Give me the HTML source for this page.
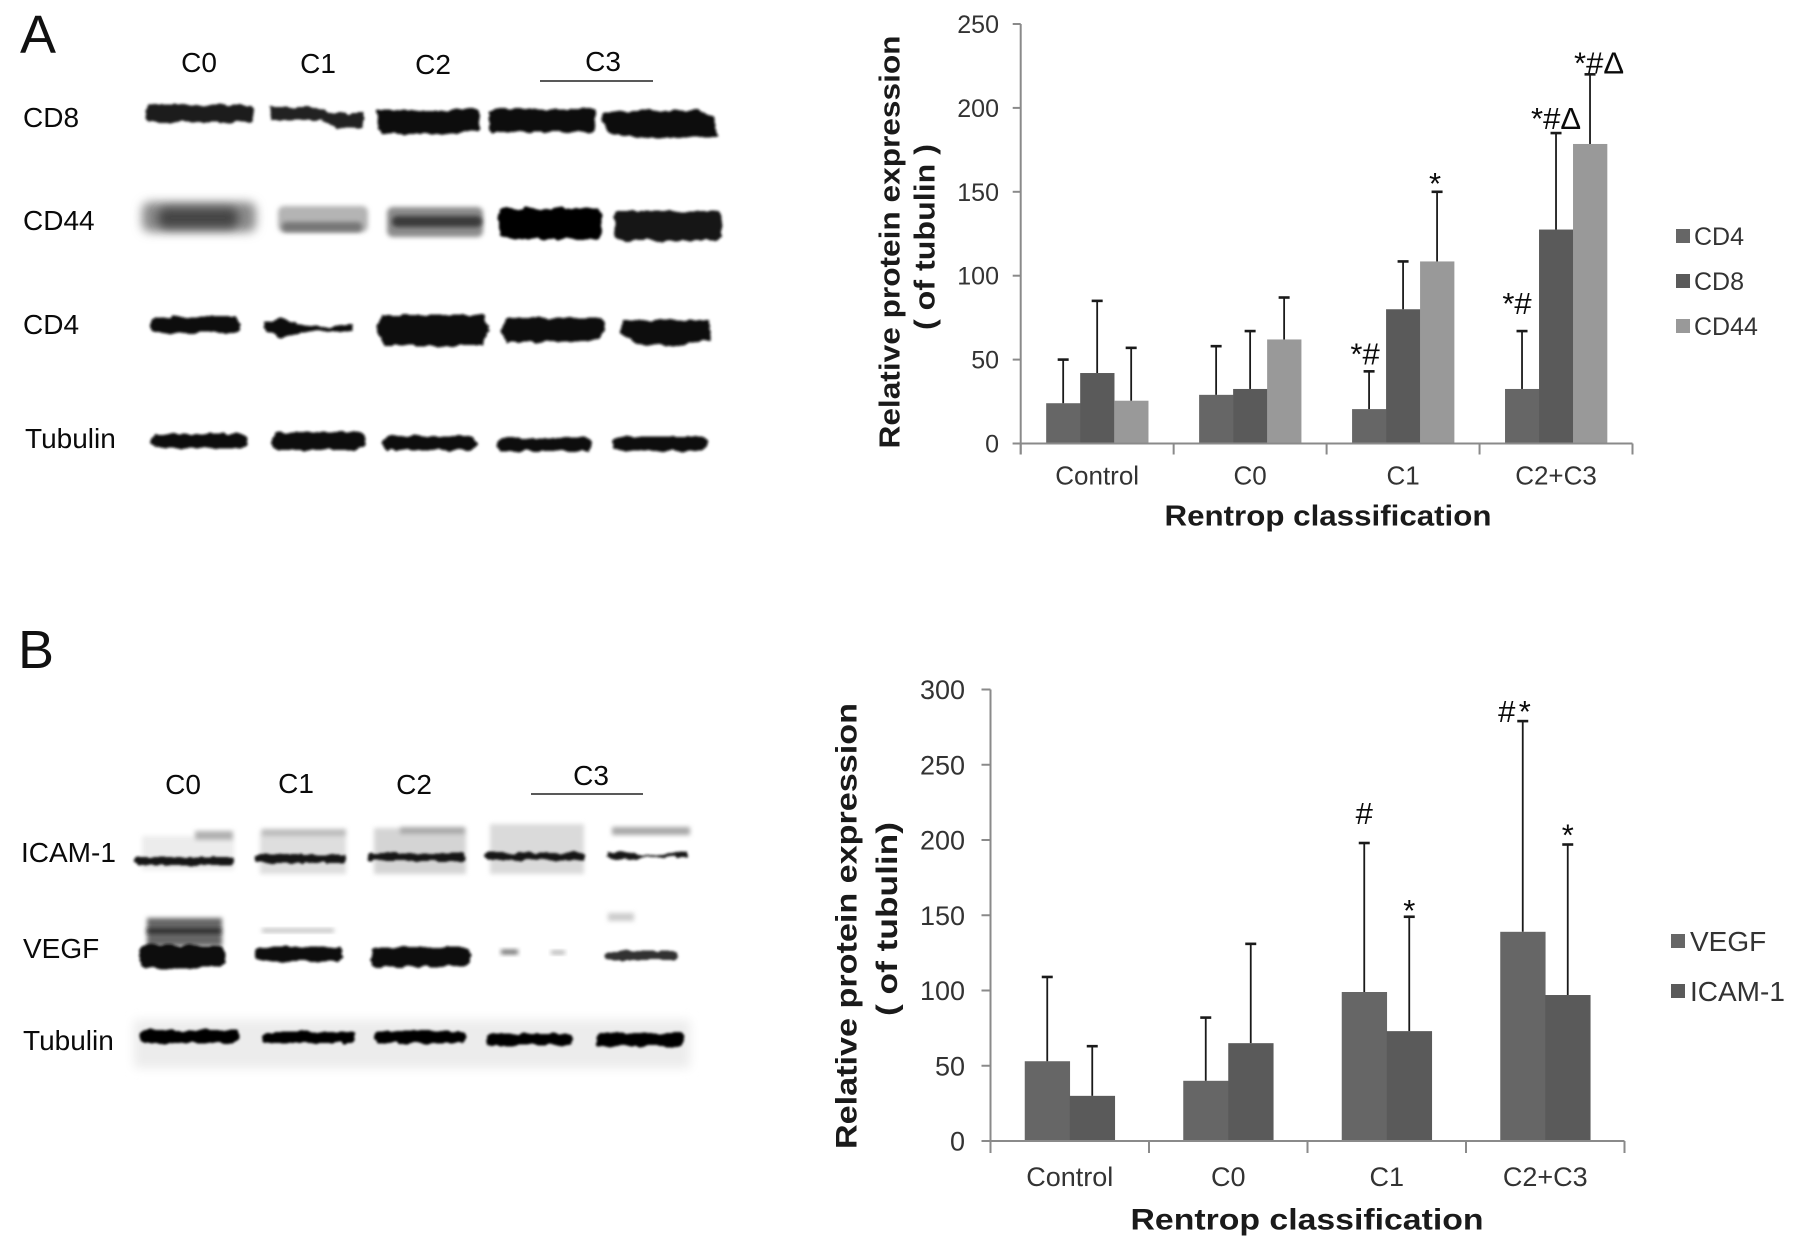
<!DOCTYPE html>
<html lang="en">
<head>
<meta charset="utf-8">
<title>Protein expression by Rentrop classification</title>
<style>
html,body{margin:0;padding:0;background:#fff;width:1795px;height:1252px;overflow:hidden}
svg{display:block;position:absolute;left:0;top:0}
text{font-family:"Liberation Sans",Arial,sans-serif}
.lbl{font-size:28px;fill:#0a0a0a}
.panel{font-size:54px;fill:#111}
</style>
</head>
<body>
<svg id="figure" xmlns="http://www.w3.org/2000/svg" width="1795" height="1252" viewBox="0 0 1795 1252">
<defs>
<filter id="rough" x="-15%" y="-60%" width="130%" height="220%">
<feTurbulence type="fractalNoise" baseFrequency="0.09 0.14" numOctaves="2" seed="4" result="n"/>
<feDisplacementMap in="SourceGraphic" in2="n" scale="6" xChannelSelector="R" yChannelSelector="G"/>
<feGaussianBlur stdDeviation="1.3"/>
</filter>
<filter id="soft" x="-20%" y="-80%" width="140%" height="260%"><feGaussianBlur stdDeviation="5"/></filter>
<filter id="soft2" x="-20%" y="-80%" width="140%" height="260%"><feGaussianBlur stdDeviation="2.5"/></filter>
</defs>

<rect width="1795" height="1252" fill="#fff"/>

<!-- Panel A blot -->
<g>
<text class="panel" x="20" y="53">A</text>
<text class="lbl" x="199" y="72" text-anchor="middle">C0</text>
<text class="lbl" x="318" y="73" text-anchor="middle">C1</text>
<text class="lbl" x="433" y="74" text-anchor="middle">C2</text>
<text class="lbl" x="603" y="71" text-anchor="middle">C3</text>
<line x1="540" y1="81" x2="653" y2="81" stroke="#222" stroke-width="1.5"/>
<text class="lbl" x="23" y="127">CD8</text>
<text class="lbl" x="23" y="230">CD44</text>
<text class="lbl" x="23" y="334">CD4</text>
<text class="lbl" x="25" y="448">Tubulin</text>
<g filter="url(#rough)" fill="#0c0c0c">
<rect x="146" y="105" width="107" height="17" rx="4" fill="#1c1c1c"/>
<path d="M270 107H316L330 113H363V128H338L320 120H270Z" fill="#222"/>
<path d="M377 110H479V130L458 134H383L378 128Z"/>
<rect x="489" y="109" width="107" height="23" rx="4"/>
<path d="M602 111H698L714 116L718 138H648L613 135L601 122Z"/>
</g>
<g>
<rect x="142" y="202" width="114" height="30" rx="8" fill="#8a8a8a" filter="url(#soft)"/>
<rect x="158" y="208" width="80" height="20" rx="8" fill="#444" filter="url(#soft)"/>
<rect x="278" y="206" width="90" height="26" rx="6" fill="#b4b4b4" filter="url(#soft2)"/>
<rect x="282" y="222" width="80" height="10" rx="4" fill="#777" filter="url(#soft2)"/>
<rect x="387" y="207" width="96" height="30" rx="6" fill="#8c8c8c" filter="url(#soft2)"/>
<rect x="392" y="216" width="90" height="11" rx="5" fill="#3a3a3a" filter="url(#soft2)"/>
<rect x="499" y="208" width="103" height="31" rx="7" fill="#060606" filter="url(#rough)"/>
<rect x="614" y="211" width="108" height="30" rx="7" fill="#161616" filter="url(#rough)"/>
</g>
<g filter="url(#rough)" fill="#070707">
<rect x="149" y="317" width="91" height="16" rx="7"/>
<path d="M264 322L282 319L302 325L332 327L352 324V331L332 331L302 332L282 338L265 331Z"/>
<path d="M383 315H483L489 330L483 346H385L376 330Z"/>
<path d="M505 318H602L606 330L599 340L537 342L507 342L501 330Z"/>
<path d="M623 320H709L711 340L667 346L637 344L620 333Z"/>
</g>
<g filter="url(#rough)" fill="#070707">
<rect x="151" y="434" width="96" height="14" rx="7"/>
<rect x="271" y="432" width="94" height="18" rx="8"/>
<rect x="382" y="436" width="95" height="14" rx="7"/>
<rect x="497" y="438" width="95" height="13" rx="6"/>
<rect x="612" y="437" width="95" height="14" rx="7"/>
</g>
</g>

<!-- Panel B blot -->
<g>
<text class="panel" x="18" y="668">B</text>
<text class="lbl" x="183" y="794" text-anchor="middle">C0</text>
<text class="lbl" x="296" y="793" text-anchor="middle">C1</text>
<text class="lbl" x="414" y="794" text-anchor="middle">C2</text>
<text class="lbl" x="591" y="785" text-anchor="middle">C3</text>
<line x1="531" y1="794" x2="643" y2="794" stroke="#222" stroke-width="1.5"/>
<text class="lbl" x="21" y="862">ICAM-1</text>
<text class="lbl" x="23" y="958">VEGF</text>
<text class="lbl" x="23" y="1050">Tubulin</text>
<rect x="134" y="1020" width="556" height="48" fill="#ececec" filter="url(#soft)"/>
<g filter="url(#soft2)">
<rect x="142" y="836" width="92" height="34" fill="#ececec"/>
<rect x="195" y="831" width="38" height="9" fill="#b0b0b0"/>
<rect x="260" y="830" width="86" height="44" fill="#dedede"/>
<rect x="262" y="829" width="84" height="7" fill="#bbb"/>
<rect x="374" y="828" width="92" height="46" fill="#d4d4d4"/>
<rect x="400" y="827" width="65" height="7" fill="#a8a8a8"/>
<rect x="490" y="824" width="94" height="50" fill="#dadada"/>
<rect x="612" y="827" width="78" height="8" fill="#a8a8a8"/>
</g>
<g filter="url(#rough)" fill="#141414">
<rect x="135" y="857" width="99" height="8" rx="4"/>
<rect x="254" y="855" width="93" height="8" rx="4"/>
<rect x="368" y="853" width="97" height="8" rx="4"/>
<rect x="485" y="853" width="100" height="7" rx="3"/>
<path d="M606 853L623 852L648 855L688 852V857L648 857L623 859L606 858Z"/>
</g>
<g>
<rect x="147" y="918" width="75" height="28" fill="#666" filter="url(#soft2)"/>
<rect x="147" y="929" width="74" height="4" fill="#222" filter="url(#soft2)"/>
<rect x="262" y="929" width="72" height="3" fill="#aaa" filter="url(#soft2)"/>
<rect x="608" y="913" width="26" height="8" fill="#ccc" filter="url(#soft2)"/>
<rect x="501" y="950" width="17" height="4" fill="#555" filter="url(#soft2)"/>
<rect x="551" y="951" width="14" height="3" fill="#999" filter="url(#soft2)"/>
</g>
<g filter="url(#rough)" fill="#080808">
<rect x="139" y="945" width="86" height="23" rx="8"/>
<rect x="255" y="947" width="88" height="14" rx="5"/>
<rect x="371" y="947" width="99" height="20" rx="7"/>
<rect x="606" y="951" width="72" height="9" rx="3" fill="#333"/>
</g>
<g filter="url(#rough)" fill="#060606">
<rect x="140" y="1030" width="99" height="13" rx="6"/>
<rect x="262" y="1032" width="93" height="11" rx="5"/>
<rect x="374" y="1031" width="92" height="12" rx="5"/>
<rect x="486" y="1034" width="87" height="11" rx="5"/>
<rect x="596" y="1033" width="89" height="13" rx="6"/>
</g>
</g>

<g id="chart-a"></g>
<g id="chart-b"></g>
</svg>

<script>
// Chart A data
const categoriesA = ['Control', 'C0', 'C1', 'C2+C3'];
const seriesNamesA = ['CD4', 'CD8', 'CD44'];
const cd4Values = [24, 29, 20.5, 32.5];
const cd8Values = [42, 32.5, 80, 127.5];
const cd44Values = [25.5, 62, 108.5, 178.5];
const cd4ErrorTops = [50, 58, 43, 67];
const cd8ErrorTops = [85, 67, 108.5, 185];
const cd44ErrorTops = [57, 87, 150, 220];
const yTicksA = [0, 50, 100, 150, 200, 250];
const annotationLabelsA = ['*#', '*', '*#', '*#Δ', '*#Δ'];
const annotationGroupsA = [2, 2, 3, 3, 3];
const annotationSeriesA = [0, 2, 0, 1, 2];

// Chart B data
const categoriesB = ['Control', 'C0', 'C1', 'C2+C3'];
const seriesNamesB = ['VEGF', 'ICAM-1'];
const vegfValues = [53, 40, 99, 139];
const icamValues = [30, 65, 73, 97];
const vegfErrorTops = [109, 82, 198, 279];
const icamErrorTops = [63, 131, 149, 197];
const yTicksB = [0, 50, 100, 150, 200, 250, 300];
const annotationLabelsB = ['#', '*', '#', '*', '*'];
const annotationGroupsB = [2, 2, 3, 3, 3];
const annotationSeriesB = [0, 1, 0, 0, 1];

const NS = 'http://www.w3.org/2000/svg';

function addLine(parent, name, x1, y1, x2, y2, color, width) {
  const el = document.createElementNS(NS, 'line');
  
  
  el.setAttribute('x1', x1);
  el.setAttribute('y1', y1);
  el.setAttribute('x2', x2);
  el.setAttribute('y2', y2);
  el.setAttribute('stroke', color);
  el.setAttribute('stroke-width', width);
  parent.appendChild(el);
  return el;
}

function addRect(parent, name, x, y, w, h, color) {
  const el = document.createElementNS(NS, 'rect');
  
  
  el.setAttribute('x', x);
  el.setAttribute('y', y);
  el.setAttribute('width', w);
  el.setAttribute('height', h);
  el.setAttribute('fill', color);
  parent.appendChild(el);
  return el;
}

function addText(parent, name, str, x, yCenter, size, color, anchor, bold, length, rotate) {
  const el = document.createElementNS(NS, 'text');
  
  
  const base = size * 0.358;
  if (rotate) {
    el.setAttribute('transform', 'translate(' + (x + base) + ',' + yCenter + ') rotate(-90)');
    el.setAttribute('x', 0);
    el.setAttribute('y', 0);
  } else {
    el.setAttribute('x', x);
    el.setAttribute('y', yCenter + base);
  }
  el.setAttribute('font-size', size);
  el.setAttribute('fill', color);
  el.setAttribute('text-anchor', anchor);
  if (bold) el.setAttribute('font-weight', 'bold');
  if (length) {
    el.setAttribute('textLength', length);
    el.setAttribute('lengthAdjust', 'spacingAndGlyphs');
  }
  el.textContent = str;
  parent.appendChild(el);
  return el;
}

function drawChart(root, layout, categories, seriesNames, values, errorTops, yTicks, colors, annLabels, annGroups, annSeries, annNudgeX, annNudgeY) {
  const yScale = v => layout.y0 - (v / yTicks[yTicks.length - 1]) * (layout.y0 - layout.yTop);
  const catW = (layout.xEnd - layout.x0) / categories.length;
  const xCat = i => layout.x0 + i * catW;
  const groupW = layout.barW * seriesNames.length;
  const xBar = (i, s) => xCat(i) + (catW - groupW) / 2 + s * layout.barW;

  seriesNames.forEach((sName, s) => {
    values[s].forEach((v, i) => {
      const key = sName.toLowerCase() + '-' + categories[i].toLowerCase().replace('+', '-');
      addRect(root, 'bar-' + key, xBar(i, s), yScale(v), layout.barW + 0.3, layout.y0 - yScale(v), colors[s]);
      const cx = xBar(i, s) + layout.barW / 2;
      addLine(root, 'error-bar-' + key, cx, yScale(v), cx, yScale(errorTops[s][i]), '#1a1a1a', 1.8);
      addLine(root, 'error-cap-' + key, cx - 5.5, yScale(errorTops[s][i]), cx + 5.5, yScale(errorTops[s][i]), '#1a1a1a', 2.6);
    });
  });

  addLine(root, 'y-axis', layout.x0, layout.yTop, layout.x0, layout.y0 + layout.tickDown, '#8a8a8a', 2);
  addLine(root, 'x-axis', layout.x0 - layout.tickLeft, layout.y0, layout.xEnd, layout.y0, '#8a8a8a', 2);
  yTicks.forEach(t => {
    addLine(root, 'y-tick-' + t, layout.x0 - layout.tickLeft, yScale(t), layout.x0, yScale(t), '#8a8a8a', 2);
    addText(root, 'y-tick-label-' + t, String(t), layout.labelRight, yScale(t), layout.tickFont, '#333', 'end');
  });
  for (let i = 0; i <= categories.length; i++) {
    addLine(root, 'x-tick-' + i, xCat(i), layout.y0, xCat(i), layout.y0 + layout.tickDown, '#8a8a8a', 2);
  }
  categories.forEach((c, i) => {
    addText(root, 'x-tick-label-' + c.toLowerCase().replace('+', '-'), c, xCat(i) + catW / 2, layout.catY, layout.catFont, '#333', 'middle');
  });

  addText(root, 'x-axis-title', 'Rentrop classification', layout.xTitleX, layout.xTitleY, layout.titleFont, '#1a1a1a', 'middle', true, layout.xTitleLen);
  addText(root, 'y-axis-title', 'Relative protein expression', layout.yTitleX, layout.yTitleY, layout.titleFont, '#1a1a1a', 'middle', true, layout.yTitleLen, true);
  addText(root, 'y-axis-subtitle', layout.subtitle, layout.ySubX, layout.ySubY, layout.titleFont, '#1a1a1a', 'middle', true, layout.ySubLen, true);

  annLabels.forEach((label, k) => {
    const g = annGroups[k];
    const s = annSeries[k];
    const cx = xBar(g, s) + layout.barW / 2 + annNudgeX[k];
    addText(root, 'significance-' + k, label, cx, yScale(errorTops[s][g]) - layout.annGap + annNudgeY[k], layout.annFont, '#0a0a0a', 'middle');
  });

  seriesNames.forEach((sName, s) => {
    const ly = layout.legendY + s * layout.legendStep;
    addRect(root, 'legend-swatch-' + sName.toLowerCase(), layout.legendX, ly - 7, 14, 14, colors[s]);
    addText(root, 'legend-label-' + sName.toLowerCase(), sName, layout.legendX + layout.legendGap, ly, layout.legendFont, '#333', 'start');
  });
}

drawChart(
  document.getElementById('chart-a'),
  { x0: 1020.7, xEnd: 1632.5, y0: 443.5, yTop: 24, barW: 34, tickDown: 11, tickLeft: 8, labelRight: 999, tickFont: 25,
    catY: 475, catFont: 26, titleFont: 29, xTitleX: 1328, xTitleY: 515, xTitleLen: 327,
    yTitleX: 889, yTitleY: 242, yTitleLen: 413, ySubX: 924, ySubY: 237, ySubLen: 186, subtitle: '( of tubulin )',
    annGap: 18, annFont: 31, legendX: 1676, legendY: 236, legendStep: 45, legendGap: 18, legendFont: 25 },
  categoriesA, seriesNamesA,
  [cd4Values, cd8Values, cd44Values],
  [cd4ErrorTops, cd8ErrorTops, cd44ErrorTops],
  yTicksA, ['#666666', '#5a5a5a', '#999999'],
  annotationLabelsA, annotationGroupsA, annotationSeriesA, [-4, -2, -5, 0, 9], [0, 9, -10, 3, 6]
);

drawChart(
  document.getElementById('chart-b'),
  { x0: 990.5, xEnd: 1624.5, y0: 1141, yTop: 689.5, barW: 45, tickDown: 12, tickLeft: 9, labelRight: 965, tickFont: 27,
    catY: 1176.5, catFont: 27, titleFont: 30, xTitleX: 1307, xTitleY: 1219, xTitleLen: 353,
    yTitleX: 846, yTitleY: 926, yTitleLen: 446, ySubX: 886.5, ySubY: 919, ySubLen: 194, subtitle: '( of tubulin)',
    annGap: 21, annFont: 31, legendX: 1671, legendY: 941, legendStep: 50, legendGap: 19, legendFont: 28 },
  categoriesB, seriesNamesB,
  [vegfValues, icamValues],
  [vegfErrorTops, icamErrorTops],
  yTicksB, ['#666666', '#5a5a5a'],
  annotationLabelsB, annotationGroupsB, annotationSeriesB, [0, 0, -16, 2, 0], [-9, 14, 11, 11, 11]
);
</script>
</body>
</html>
